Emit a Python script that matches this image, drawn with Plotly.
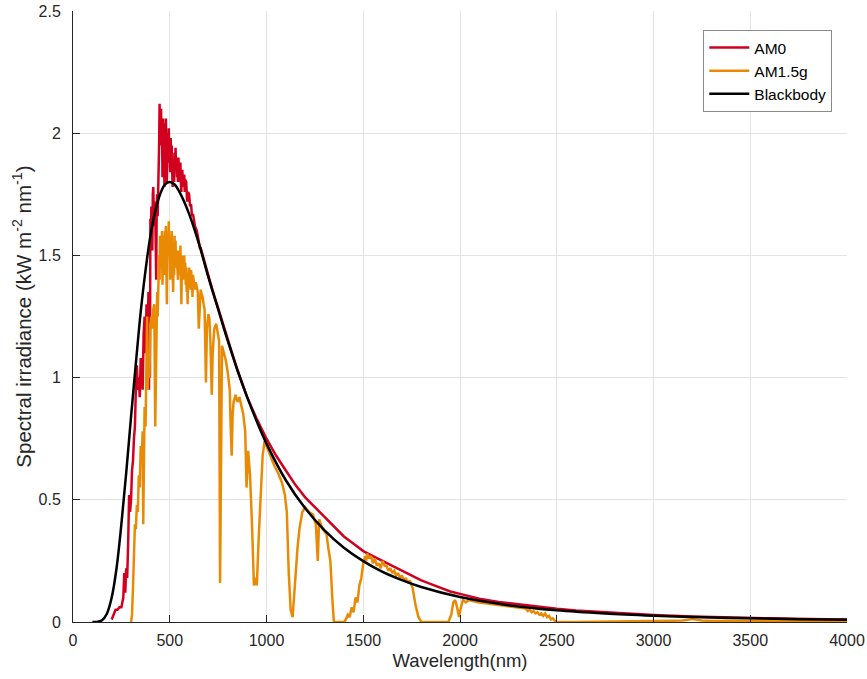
import plotly.graph_objects as go

# Extraterrestrial spectrum (AM0), kW m^-2 nm^-1
am0_wl = [200, 210, 220, 230, 240, 250, 255, 260, 265, 270, 275, 280, 285, 290, 295,
          300, 305, 310, 315, 320, 325, 330, 335, 340, 345, 350, 355, 360, 365, 370,
          375, 380, 382.5, 385, 387.5, 390, 392.5, 395, 397.5, 400, 402.5, 405, 407.5,
          410, 412.5, 415, 417.5, 420, 422.5, 425, 427.5, 430, 432.5, 435, 437.5, 440,
          442.5, 445, 447.5, 450, 452.5, 455, 457.5, 460, 462.5, 465, 467.5, 470, 472.5,
          475, 477.5, 480, 482.5, 485, 487.5, 490, 492.5, 495, 497.5, 500, 502.5, 505,
          507.5, 510, 512.5, 515, 517.5, 520, 522.5, 525, 527.5, 530, 532.5, 535, 537.5,
          540, 542.5, 545, 547.5, 550, 552.5, 555, 557.5, 560, 562.5, 565, 567.5, 570,
          575, 577.5, 580, 585, 590, 595, 600, 605, 610, 615, 620, 630, 640, 650, 656,
          660, 670, 680, 690, 700, 720, 740, 760, 780, 800, 850, 900, 950, 1000, 1050,
          1100, 1150, 1200, 1250, 1300, 1350, 1400, 1450, 1500, 1550, 1600, 1650, 1700,
          1750, 1800, 1850, 1900, 1950, 2000, 2100, 2200, 2300, 2400, 2500, 2600, 2800,
          3000, 3200, 3400, 3600, 3800, 4000]
am0_val = [0.01, 0.03, 0.05, 0.05, 0.06, 0.06, 0.08, 0.10, 0.20, 0.12, 0.22, 0.18, 0.32, 0.52, 0.45,
           0.50, 0.62, 0.66, 0.75, 0.80, 0.96, 1.05, 0.95, 1.00, 0.92, 1.08, 1.05, 0.95, 1.18, 1.25,
           1.10, 1.30, 1.12, 1.05, 1.25, 1.35, 0.95, 1.20, 1.00, 1.65, 1.58, 1.70, 1.60,
           1.52, 1.75, 1.78, 1.66, 1.72, 1.62, 1.70, 1.55, 1.40, 1.70, 1.75, 1.66, 1.85,
           1.78, 1.95, 2.12, 1.98, 2.08, 2.10, 1.95, 2.02, 1.82, 2.06, 1.95, 1.98, 1.78,
           2.04, 1.92, 2.06, 1.95, 1.80, 1.90, 2.00, 1.88, 2.02, 1.90, 1.92, 1.84, 1.98,
           1.88, 1.95, 1.85, 1.78, 1.86, 1.85, 1.80, 1.92, 1.86, 1.94, 1.85, 1.90, 1.82,
           1.86, 1.80, 1.90, 1.82, 1.87, 1.80, 1.88, 1.80, 1.76, 1.84, 1.85, 1.78, 1.82,
           1.83, 1.76, 1.81, 1.80, 1.72, 1.76, 1.75, 1.70, 1.71, 1.66, 1.67, 1.62, 1.60, 1.56, 1.53,
           1.53, 1.50, 1.47, 1.44, 1.41, 1.36, 1.31, 1.26, 1.21, 1.16, 1.03, 0.92, 0.83, 0.75, 0.68,
           0.62, 0.56, 0.51, 0.47, 0.43, 0.39, 0.35, 0.32, 0.29, 0.27, 0.25, 0.23, 0.21,
           0.19, 0.17, 0.155, 0.14, 0.125, 0.115, 0.095, 0.082, 0.072, 0.062, 0.054, 0.047, 0.037,
           0.029, 0.023, 0.018, 0.015, 0.012, 0.010]

# Terrestrial global tilt spectrum (AM1.5g), kW m^-2 nm^-1
am15_wl = [300, 305, 310, 315, 320, 325, 330, 335, 340, 345, 350, 355, 360, 363, 366,
           370, 375, 380, 383, 386, 390, 395, 400, 405, 410, 415, 420, 425, 430, 432.5,
           435, 437.5, 440, 442.5, 445, 447.5, 450, 452.5, 455, 457.5, 460, 462.5, 465,
           467.5, 470, 472.5, 475, 477.5, 480, 482.5, 485, 487.5, 490, 492.5, 495, 497.5,
           500, 502.5, 505, 507.5, 510, 512.5, 515, 517.5, 520, 522.5, 525, 527.5, 530,
           532.5, 535, 537.5, 540, 542.5, 545, 547.5, 550, 552.5, 555, 557.5, 560, 562.5,
           565, 567.5, 570, 572.5, 575, 577.5, 580, 582.5, 585, 587.5, 590, 592.5, 595,
           597.5, 600, 605, 607.5, 610, 615, 617.5, 620, 625, 630, 635, 640, 645, 650,
           655, 660, 665, 670, 675, 680, 687, 692, 700, 705, 710, 717, 722, 730, 740,
           750, 755, 760, 765, 770, 780, 790, 800, 810, 815, 820, 825, 830, 840, 850,
           860, 870, 880, 890, 897, 905, 915, 925, 935, 945, 950, 960, 970, 980, 990,
           1000, 1020, 1040, 1060, 1080, 1095, 1105, 1115, 1125, 1135, 1142, 1150, 1160,
           1170, 1185, 1200, 1220, 1240, 1255, 1265, 1272, 1290, 1310, 1320, 1330,
           1340, 1348, 1400, 1410, 1420, 1430, 1440, 1450, 1460, 1470, 1480, 1490,
           1500, 1510, 1515, 1520, 1530, 1540, 1550, 1560, 1570, 1580, 1590, 1600,
           1610, 1620, 1630, 1640, 1650, 1660, 1670, 1680, 1690, 1700, 1710, 1720,
           1730, 1740, 1755, 1770, 1785, 1800, 1940, 1955, 1965, 1975, 1985, 1995,
           2005, 2015, 2030, 2045, 2070, 2100, 2150, 2200, 2250, 2300, 2340, 2350,
           2360, 2370, 2380, 2390, 2400, 2410, 2420, 2430, 2440, 2450, 2460, 2470,
           2480, 2490, 2500, 2600, 2700, 2800, 2900, 2950, 3000, 3050, 3100, 3150,
           3200, 3250, 3300, 3400, 3500, 3600, 3700, 3800, 3900, 4000]
am15_val = [0.0, 0.03, 0.14, 0.30, 0.40, 0.38, 0.48, 0.45, 0.60, 0.55, 0.72, 0.65, 0.78, 0.40, 0.82,
            0.88, 0.80, 1.05, 1.25, 0.95, 1.10, 1.00, 1.22, 1.25, 1.20, 1.28, 1.30, 0.80, 1.15, 1.30,
            1.35, 1.25, 1.42, 1.35, 1.50, 1.40, 1.58, 1.48, 1.55, 1.45, 1.60, 1.38, 1.56,
            1.48, 1.58, 1.42, 1.60, 1.52, 1.62, 1.50, 1.30, 1.48, 1.60, 1.52, 1.64, 1.50,
            1.58, 1.40, 1.55, 1.47, 1.60, 1.48, 1.45, 1.35, 1.50, 1.42, 1.58, 1.48, 1.56,
            1.45, 1.52, 1.44, 1.48, 1.40, 1.52, 1.44, 1.50, 1.42, 1.54, 1.45, 1.30, 1.44,
            1.50, 1.40, 1.48, 1.40, 1.50, 1.42, 1.47, 1.38, 1.45, 1.35, 1.38, 1.30, 1.43,
            1.38, 1.45, 1.42, 1.36, 1.44, 1.40, 1.33, 1.42, 1.38, 1.36, 1.39, 1.37, 1.35, 1.20,
            1.33, 1.36, 1.34, 1.33, 1.30, 1.28, 0.98, 1.20, 1.26, 1.24, 1.15, 0.93, 1.10, 1.20, 1.22,
            1.18, 1.15, 0.16, 0.70, 1.13, 1.10, 1.07, 1.02, 0.95, 0.80, 0.68, 0.85, 0.90, 0.93, 0.90,
            0.92, 0.88, 0.85, 0.78, 0.55, 0.70, 0.60, 0.40, 0.15, 0.18, 0.15, 0.35, 0.55, 0.68, 0.74,
            0.72, 0.68, 0.64, 0.61, 0.57, 0.52, 0.45, 0.20, 0.05, 0.02, 0.10, 0.22, 0.30,
            0.38, 0.45, 0.47, 0.45, 0.44, 0.40, 0.25, 0.42, 0.38, 0.36, 0.30, 0.25,
            0.10, 0.0, 0.0, 0.01, 0.03, 0.02, 0.06, 0.04, 0.10, 0.08, 0.15, 0.18,
            0.24, 0.27, 0.25, 0.28, 0.26, 0.27, 0.24, 0.26, 0.23, 0.24, 0.22, 0.25,
            0.23, 0.23, 0.21, 0.22, 0.20, 0.21, 0.19, 0.20, 0.18, 0.19, 0.17, 0.18,
            0.16, 0.17, 0.14, 0.07, 0.02, 0.0, 0.0, 0.03, 0.08, 0.09, 0.06, 0.02,
            0.06, 0.09, 0.08, 0.09, 0.085, 0.08, 0.075, 0.07, 0.065, 0.06, 0.055, 0.045,
            0.05, 0.04, 0.045, 0.035, 0.04, 0.03, 0.035, 0.025, 0.035, 0.02, 0.025, 0.01,
            0.015, 0.005, 0.0, 0.0, 0.0005, 0.001, 0.003, 0.002, 0.004, 0.003, 0.005, 0.006,
            0.012, 0.006, 0.004, 0.005, 0.003, 0.004, 0.003, 0.004, 0.003, 0.003]

# Blackbody reference curve, kW m^-2 nm^-1
bb_wl = [100, 125, 150, 175, 200, 225, 250, 275, 300, 325, 350, 375, 400, 425, 450,
         475, 500, 525, 550, 600, 650, 700, 750, 800, 850, 900, 950, 1000, 1100, 1200,
         1300, 1400, 1500, 1600, 1700, 1800, 2000, 2250, 2500, 2750, 3000, 3250, 3500,
         3750, 4000]
bb_val = [0.0, 0.0005, 0.007, 0.034, 0.10, 0.22, 0.40, 0.61, 0.84, 1.06, 1.27, 1.44, 1.58, 1.68, 1.75,
          1.79, 1.80, 1.79, 1.76, 1.67, 1.55, 1.41, 1.28, 1.15, 1.03, 0.92, 0.82, 0.73, 0.58, 0.465,
          0.375, 0.304, 0.249, 0.205, 0.171, 0.143, 0.102, 0.069, 0.048, 0.035, 0.026, 0.019, 0.015,
          0.0115, 0.009]

x_ticks = [0, 500, 1000, 1500, 2000, 2500, 3000, 3500, 4000]
y_ticks = [0, 0.5, 1, 1.5, 2, 2.5]
y_tick_text = ["0", "0.5", "1", "1.5", "2", "2.5"]

FONT = "Liberation Sans, Arial, Helvetica, sans-serif"
TEXT = "#262626"

fig = go.Figure()
fig.add_trace(go.Scatter(x=am0_wl, y=am0_val, mode="lines", name="AM0",
                         line=dict(color="#D1001F", width=2.5)))
fig.add_trace(go.Scatter(x=am15_wl, y=am15_val, mode="lines", name="AM1.5g",
                         line=dict(color="#E98A05", width=2.5)))
fig.add_trace(go.Scatter(x=bb_wl, y=bb_val, mode="lines", name="Blackbody",
                         line=dict(color="#000000", width=2.5, shape="spline")))

axis_common = dict(
    showgrid=True, gridcolor="#e3e3e3", gridwidth=1,
    showline=True, linecolor=TEXT, linewidth=1,
    ticks="inside", ticklen=7, tickcolor=TEXT, tickwidth=1,
    tickfont=dict(family=FONT, size=16, color=TEXT),
    zeroline=False, mirror=False, automargin=False,
)

fig.update_layout(
    width=867, height=679,
    margin=dict(l=73, r=20, t=11, b=57),
    paper_bgcolor="white", plot_bgcolor="white",
    font=dict(family=FONT, color=TEXT),
    showlegend=True,
    legend=dict(
        x=0.981, y=0.969, xanchor="right", yanchor="top",
        bgcolor="white", bordercolor="#8a8a8a", borderwidth=1,
        font=dict(family=FONT, size=15.5, color="#000000"),
        tracegroupgap=0, itemwidth=40,
    ),
    xaxis=dict(
        range=[0, 4000], tickvals=x_ticks, ticktext=[str(v) for v in x_ticks],
        title=dict(text="Wavelength(nm)", font=dict(family=FONT, size=18.5, color=TEXT), standoff=5),
        ticklabelstandoff=4,
        **axis_common,
    ),
    yaxis=dict(
        range=[0, 2.5], tickvals=y_ticks, ticktext=y_tick_text,
        title=dict(text="Spectral irradiance (kW m<sup>-2</sup> nm<sup>-1</sup>)",
                   font=dict(family=FONT, size=20.5, color=TEXT), standoff=1),
        ticklabelstandoff=8,
        **axis_common,
    ),
)

fig.write_html("out.html")
